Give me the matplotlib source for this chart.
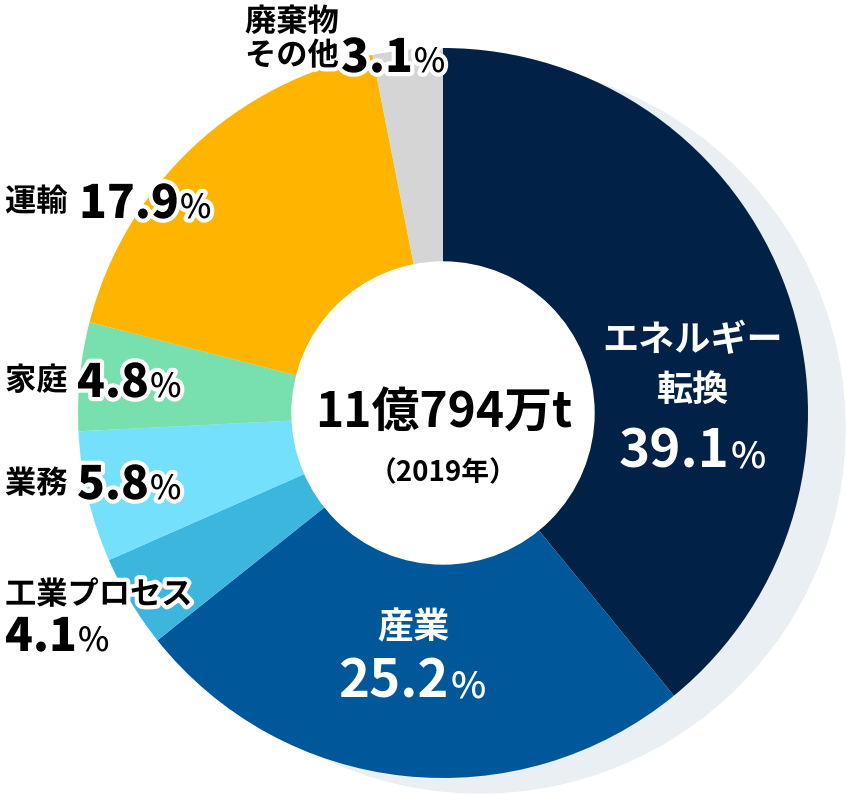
import matplotlib
matplotlib.use("Agg")
import matplotlib.pyplot as plt
from matplotlib.patches import Circle
import matplotlib.patheffects as pe

plt.rcParams["font.family"] = ["Noto Sans CJK JP", "DejaVu Sans"]

# data (clockwise from 12 o'clock)
sectors = ["エネルギー転換", "産業", "工業プロセス", "業務", "家庭", "運輸", "廃棄物その他"]
shares = [39.1, 25.2, 4.1, 5.8, 4.8, 17.9, 3.1]
colors = ["#012246", "#00589b", "#3db6de", "#74e0fb", "#78e0ae", "#ffb500", "#d5d5d5"]
total_label = "11億794万t"
year_label = "（2019年）"

W, H = 846, 795
fig = plt.figure(figsize=(W / 100, H / 100), dpi=100)
ax = fig.add_axes([0, 0, 1, 1])

cx, cy, R = 443, 413, 365

ax.add_patch(Circle((cx + 37, cy + 15), R, color="#e9eff2", zorder=0))
ax.pie(shares, colors=colors, startangle=-90, counterclock=True,
       center=(cx, cy), radius=R, wedgeprops=dict(linewidth=0), frame=False)
ax.add_patch(Circle((cx, cy), 151, color="white", zorder=5))

ax.set_xlim(0, W)
ax.set_ylim(H, 0)
ax.set_aspect("equal")
ax.axis("off")

r = fig.canvas.get_renderer()
stroke = [pe.withStroke(linewidth=6, foreground="white")]


def pct(x, y, value, color, nsize, psize, center=True, effects=None, weight="heavy"):
    t1 = ax.text(x, y, f"{value:.1f}", fontsize=nsize, weight=weight, color=color,
                 ha="left", va="baseline", zorder=10, path_effects=effects)
    t2 = ax.text(x, y, "%", fontsize=psize, weight="medium", color=color,
                 ha="left", va="baseline", zorder=10, path_effects=effects)
    w1 = t1.get_window_extent(r).width
    w2 = t2.get_window_extent(r).width
    x0 = x - (w1 + w2 + 1) / 2 if center else x
    t1.set_x(x0)
    t2.set_x(x0 + w1 + 1)


# centre
ax.text(cx + 1, 427, total_label, fontsize=34.5, weight="bold", ha="center", va="baseline", zorder=10)
ax.text(cx, 473, year_label, fontsize=20, weight="bold", ha="center", va="center", zorder=10)

# labels inside the ring
ax.text(693, 341, "エネルギー", fontsize=26, weight="bold", color="white", ha="center", va="center", zorder=10)
ax.text(693, 390, "転換", fontsize=26, weight="bold", color="white", ha="center", va="center", zorder=10)
pct(692, 467, shares[0], "white", 38, 27, weight="bold")
ax.text(413, 628, sectors[1], fontsize=26, weight="bold", color="white", ha="center", va="center", zorder=10)
pct(412, 698, shares[1], "white", 38, 27, weight="bold")

# labels outside the ring
def name(x, y, s):
    ax.text(x, y, s, fontsize=22.5, weight="bold", ha="left", va="center", zorder=10, path_effects=stroke)

name(245, 22, "廃棄物")
name(245, 56, "その他")
pct(341, 72, shares[6], "black", 33, 24, center=False, effects=stroke)
name(5, 202, "運輸")
pct(79, 218, shares[5], "black", 33, 24, center=False, effects=stroke)
name(5, 381, "家庭")
pct(77, 397, shares[4], "black", 33, 24, center=False, effects=stroke)
name(5, 484, "業務")
pct(77, 499, shares[3], "black", 33, 24, center=False, effects=stroke)
name(5, 595, "工業プロセス")
pct(5, 651, shares[2], "black", 33, 24, center=False, effects=stroke)

fig.savefig("out.png", dpi=100)
